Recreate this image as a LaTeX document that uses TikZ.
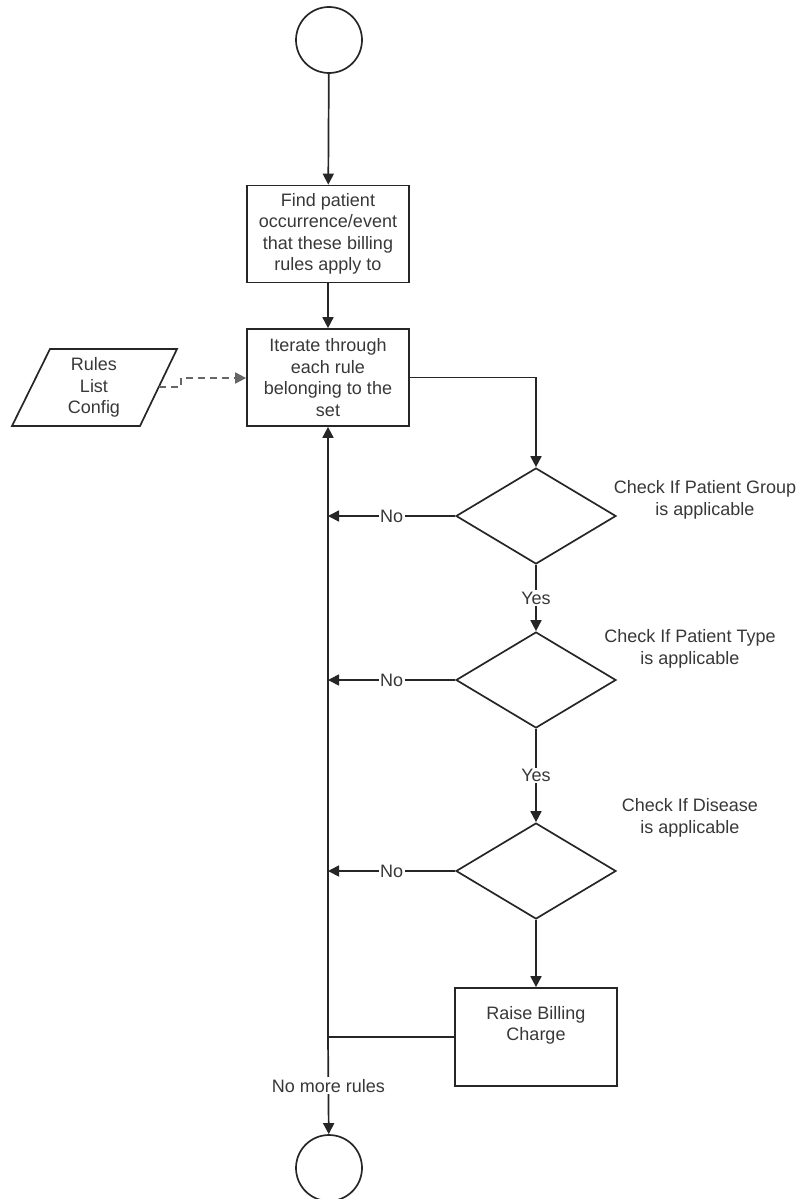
\documentclass[tikz,border=0pt]{standalone}
\usepackage{fontspec}
\setmainfont{Liberation Sans}
\usetikzlibrary{arrows.meta,shapes.geometric}
\definecolor{ink}{HTML}{262626}
\definecolor{txt}{HTML}{383838}
\begin{document}
\begin{tikzpicture}[x=1pt,y=-1pt,
  line width=1.7pt, draw=ink,
  every node/.style={font=\fontsize{18}{21.5}\selectfont, text=txt},
  flow/.style={draw=ink, -{Triangle[length=11pt,width=11pt]}},
  terminal/.style={draw=ink, circle, minimum size=66pt, inner sep=0pt},
  procbox/.style={draw=ink, rectangle, minimum width=162pt, minimum height=97pt, align=center, inner sep=2pt},
  decision/.style={draw=ink, diamond, minimum width=160pt, minimum height=96pt, inner sep=0pt},
  note/.style={align=center, inner sep=0pt},
  onlabel/.style={fill=white, inner sep=1.5pt}]
\useasboundingbox (0,0) rectangle (800,1199);

% start / end terminals
\node[terminal] (start) at (329,40) {};
\node[terminal] (stop) at (329,1168) {};

% process boxes
\node[procbox] (find) at (328,234) {Find patient\\occurrence/event\\that these billing\\rules apply to};
\node[procbox] (iter) at (328,377.5) {Iterate through\\each rule\\belonging to the\\set};
\node[procbox, minimum height=98pt] (raise) at (536,1037) {};
\node[note] (raisetxt) at (536,1025.5) {Raise Billing\\Charge};

% data input (parallelogram)
\node[note] (rules) at (94,387.5) {Rules\\List\\Config};
\draw[ink] (50,349) -- (177,349) -- (140,426) -- (12,426) -- cycle;
\coordinate (rulesout) at (159,387);

% decisions
\node[decision] (d1) at (536,516) {};
\node[decision] (d2) at (536,680) {};
\node[decision] (d3) at (536,871) {};

\node[note] (q1) at (705,500) {Check If Patient Group\\is applicable};
\node[note] (q2) at (690,649) {Check If Patient Type\\is applicable};
\node[note] (q3) at (690,818) {Check If Disease\\is applicable};

% connectors
\draw[flow, draw=gray!80!black, dashed, dash pattern=on 7pt off 5pt]
  (rulesout) -- (181,387) -- (181,378) -- (iter.west |- 0,378);
\draw[flow] (start) -- (find);
\draw[flow] (find) -- (iter);
\draw[flow] (iter.east) -| (d1.north);

\coordinate (m1) at (iter.south |- d1.west);
\coordinate (m2) at (iter.south |- d2.west);
\coordinate (m3) at (iter.south |- d3.west);
\coordinate (join) at (iter.south |- raise.west);

\draw[flow] (d1.west) -- node[onlabel] {No} (m1);
\draw[flow] (d2.west) -- node[onlabel] {No} (m2);
\draw[flow] (d3.west) -- node[onlabel] {No} (m3);

\draw[flow] (d1.south) -- node[onlabel] {Yes} (d2.north);
\draw[flow] (d2.south) -- node[onlabel] {Yes} (d3.north);
\draw[flow] (d3.south) -- (raise.north);

\draw (raise.west) -- (join);
\draw[flow] (join) -- (iter.south);
\draw[flow] (join) -- node[onlabel] {No more rules} (stop);
\end{tikzpicture}
\end{document}
